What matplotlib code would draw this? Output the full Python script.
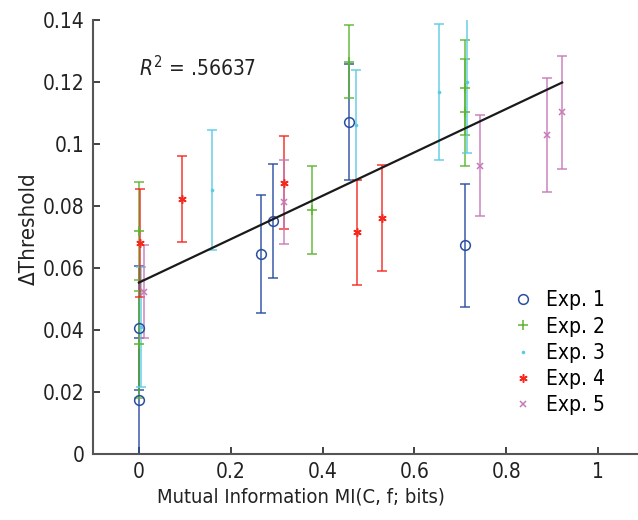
import matplotlib.pyplot as plt
import numpy as np

plt.rcParams['font.family'] = ['DejaVu Sans']
plt.rcParams['font.stretch'] = 'condensed'

# Exp. 1
x1 = [0.0, 0.0, 0.266, 0.293, 0.457, 0.711]
y1 = [0.0175, 0.0405, 0.0646, 0.0753, 0.107, 0.0673]
e1 = [0.020, 0.020, 0.019, 0.0184, 0.0187, 0.0199]
# Exp. 2
x2 = [0.0, 0.0, 0.378, 0.458, 0.711, 0.711]
y2 = [0.0719, 0.0354, 0.0788, 0.1266, 0.1182, 0.1102]
e2 = [0.0157, 0.0172, 0.0142, 0.0117, 0.0152, 0.0172]
# Exp. 3
x3 = [0.004, 0.159, 0.473, 0.653, 0.714]
y3 = [0.041, 0.0851, 0.1061, 0.1169, 0.120]
e3 = [0.0194, 0.0194, 0.0177, 0.0219, 0.023]
# Exp. 4
x4 = [0.002, 0.0935, 0.315, 0.475, 0.530]
y4 = [0.0681, 0.0822, 0.0875, 0.0715, 0.0761]
e4 = [0.0175, 0.0139, 0.015, 0.017, 0.017]
# Exp. 5
x5 = [0.0115, 0.315, 0.743, 0.889, 0.922]
y5 = [0.0524, 0.0814, 0.093, 0.1029, 0.1102]
e5 = [0.015, 0.0136, 0.0163, 0.0184, 0.0182]

# regression line
fit_x = [0.0, 0.922]
fit_icpt = 0.0553
fit_slope = 0.070

series = [
    (x1, y1, e1, '#2b4ea2', 'o', 7, 'Exp. 1'),
    (x2, y2, e2, '#5cb531', '+', 7, 'Exp. 2'),
    (x3, y3, e3, '#5bcbe3', '.', 3, 'Exp. 3'),
    (x4, y4, e4, '#f5281e', (6, 2, 0), 6, 'Exp. 4'),
    (x5, y5, e5, '#c879b8', 'x', 5, 'Exp. 5'),
]

fig = plt.figure(figsize=(6.38, 5.2), dpi=100)
ax = fig.add_axes([0.1458, 0.1269, 0.854, 0.8346])

for xs, ys, es, c, m, ms, lab in series:
    ax.errorbar(xs, ys, yerr=es, fmt='none', ecolor=c, elinewidth=1.2,
                capsize=3.6, capthick=1.2, alpha=0.85, zorder=2)
    ax.plot(xs, ys, linestyle='none', marker=m, markersize=ms,
            markerfacecolor='none' if m == 'o' else c, markeredgecolor=c,
            markeredgewidth=1.1, label=lab, zorder=3)

fx = np.array(fit_x)
ax.plot(fx, fit_icpt + fit_slope * fx, color='#1a1a1a', linewidth=1.6, zorder=4)

ax.text(0.0, 0.1248, r'$\it{R}^{2}$ = .56637', fontsize=15, color='#222222',
        va='center')

ax.set_xlim(-0.1, 1.087)
ax.set_ylim(0, 0.14)
ax.set_xticks([0, 0.2, 0.4, 0.6, 0.8, 1])
ax.set_xticklabels(['0', '0.2', '0.4', '0.6', '0.8', '1'])
ax.set_yticks([0, 0.02, 0.04, 0.06, 0.08, 0.1, 0.12, 0.14])
ax.set_yticklabels(['0', '0.02', '0.04', '0.06', '0.08', '0.1', '0.12', '0.14'])
ax.tick_params(direction='in', length=5, width=1.2, labelsize=15,
               colors='#222222', pad=6)
for s in ['top', 'right']:
    ax.spines[s].set_visible(False)
for s in ['left', 'bottom']:
    ax.spines[s].set_color('#555555')
    ax.spines[s].set_linewidth(1.5)

ax.set_xlabel('Mutual Information MI(C, f; bits)', fontsize=14.5, color='#222222')
ax.xaxis.set_label_coords(0.382, -0.077)
ax.set_ylabel('\u0394Threshold', fontsize=16, color='#222222')
ax.yaxis.set_label_coords(-0.1, 0.52)

ax.legend(loc='lower right', bbox_to_anchor=(0.955, 0.07), frameon=False,
          fontsize=15, handletextpad=0.6, labelspacing=0.3, handlelength=1.0,
          borderaxespad=0)

fig.savefig('out.png', dpi=100)
